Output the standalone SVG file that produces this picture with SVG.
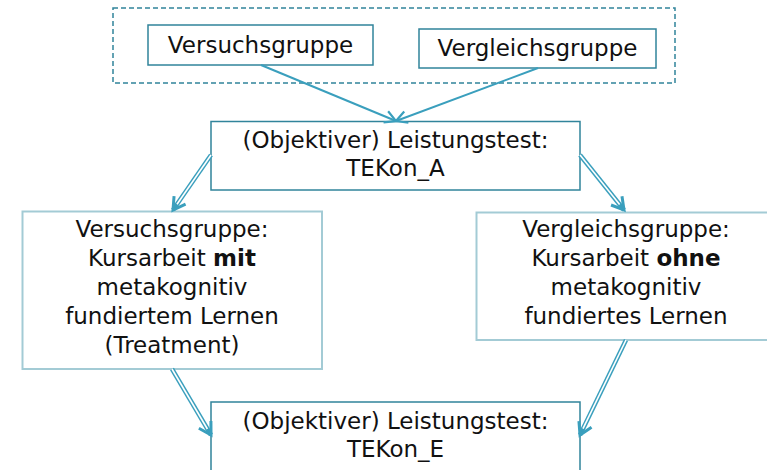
<svg xmlns="http://www.w3.org/2000/svg" width="767" height="470" viewBox="0 0 767 470">
<style>
text{font-family:"DejaVu Sans","Liberation Sans",sans-serif;font-size:23px;fill:#111;text-anchor:middle}
.dark{fill:#fff;stroke:#31849B;stroke-width:1.5}
.light{fill:#fff;stroke:#A3CBD5;stroke-width:2}
.dash{fill:none;stroke:#31849B;stroke-width:1.5;stroke-dasharray:5 3}
.single{fill:none;stroke:#3A9FBD;stroke-width:2;marker-end:url(#ah)}
.dbl{fill:none;stroke:#3A9FBD;stroke-width:4.5;marker-end:url(#ah2)}
.inner{fill:none;stroke:#fff;stroke-width:1.6}
b{font-weight:bold}
</style>
<defs>
<marker id="ah" markerUnits="userSpaceOnUse" markerWidth="20" markerHeight="20" refX="14" refY="10" orient="auto">
<path d="M3,4 L14,10 L3,16" fill="none" stroke="#3A9FBD" stroke-width="2.2"/>
</marker>
<marker id="ah2" markerUnits="userSpaceOnUse" markerWidth="22" markerHeight="22" refX="15" refY="11" orient="auto">
<path d="M3,4 L15,11 L3,18" fill="none" stroke="#3A9FBD" stroke-width="3"/>
</marker>
</defs>
<rect width="767" height="470" fill="#fff"/>
<g id="gruppen">
<rect class="dash" x="113" y="8" width="562" height="75"/>
</g>
<g id="n_versuch">
<rect class="dark" x="148" y="25" width="225" height="40"/>
<text x="260.5" y="53">Versuchsgruppe</text>
</g>
<g id="n_vergleich">
<rect class="dark" x="419" y="29" width="237" height="39"/>
<text x="537.5" y="56">Vergleichsgruppe</text>
</g>
<g id="n_tekon_a">
<rect class="dark" x="211" y="121.5" width="369" height="68.5"/>
<text x="395.5" y="148">(Objektiver) Leistungstest:</text>
<text x="395.5" y="176">TEKon_A</text>
</g>
<g id="n_versuch_kurs">
<rect class="light" x="22.5" y="211.5" width="299.5" height="157.5"/>
<text x="172" y="237">Versuchsgruppe:</text>
<text x="172" y="266">Kursarbeit <tspan font-weight="bold">mit</tspan></text>
<text x="172" y="295">metakognitiv</text>
<text x="172" y="324">fundiertem Lernen</text>
<text x="172" y="353">(Treatment)</text>
</g>
<g id="n_vergleich_kurs">
<rect class="light" x="476.5" y="212.5" width="300" height="127.5"/>
<text x="626" y="237">Vergleichsgruppe:</text>
<text x="626" y="266">Kursarbeit <tspan font-weight="bold">ohne</tspan></text>
<text x="626" y="295">metakognitiv</text>
<text x="626" y="324">fundiertes Lernen</text>
</g>
<g id="n_tekon_e">
<rect class="dark" x="211" y="402" width="369" height="80"/>
<text x="395.5" y="429">(Objektiver) Leistungstest:</text>
<text x="395.5" y="457">TEKon_E</text>
</g>
<g id="connectors">
<path class="single" d="M261,65 L396,121"/>
<path class="single" d="M538,68 L396,121"/>
<path class="dbl" d="M211,155 L173,210"/>
<path class="inner" d="M211,155 L177,204.2"/>
<path class="dbl" d="M580,155 L624,210"/>
<path class="inner" d="M580,155 L619.6,204.5"/>
<path class="dbl" d="M172,369 L211,435"/>
<path class="inner" d="M172,369 L207.4,429"/>
<path class="dbl" d="M626,340 L580,435"/>
<path class="inner" d="M626,340 L583,428.7"/>
</g>
</svg>
